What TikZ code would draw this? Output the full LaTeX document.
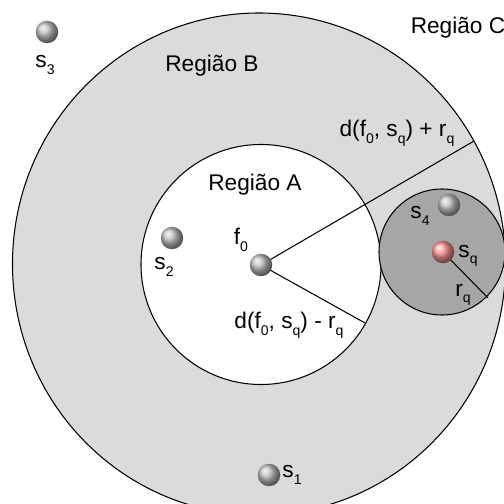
\documentclass[tikz,border=0pt]{standalone}
\usepackage{fontspec}
\setmainfont{Liberation Sans}
\usetikzlibrary{calc}
\newcommand\lowsub[1]{\raisebox{-0.55ex}{\fontsize{8}{8}\selectfont #1}}

\begin{document}
\begin{tikzpicture}[x=0.02cm,y=0.02cm,font=\fontsize{12.9}{14}\selectfont,
    ball/.style={circle,inner sep=0pt,minimum size=0.45cm,shading=ball,ball color=gray!50},
    lbl/.style={inner sep=0pt},
    edge/.style={line width=0.6pt}]
  \useasboundingbox (0,0) rectangle (504,504);
  % ---------------- regions ----------------
  \fill[gray!28] (259,240) ellipse [x radius=246.5,y radius=251];
  \draw[edge] (259,240) ellipse [x radius=246.5,y radius=251];
  \draw[edge,fill=white] (261,239.5) circle [radius=120];
  \draw[edge,fill=gray!70] (442,252) circle [radius=63];
  % ---------------- points ----------------
  \foreach \n/\x/\y in {s1/269/29,s2/172/266,s3/47/472,s4/449/299}{
    \node[ball] (\n) at (\x,\y) {};
  }
  \coordinate (bplus) at (474,363);
  \coordinate (bminus) at (365,181);
  \coordinate (rqend) at (488,206);
  \draw[edge] (261,239) -- (bplus);
  \draw[edge] (261,239) -- (bminus);
  \draw[edge] (443,252) -- (rqend);
  \node[ball] (f0) at (261,239) {};
  \node[ball,ball color=red!42] (sq) at (443,252) {};
  % ---------------- labels ----------------
  \node[lbl] (regA) at (255,319) {Região A};
  \node[lbl] (regB) at (212,438) {Região B};
  \node[lbl] (regC) at (458,476) {Região C};
  \foreach \n/\i/\x/\y in {ls1/1/292/29,ls2/2/164/237,ls3/3/45/439,ls4/4/420/288,lsq/q/468/248}{
    \node[lbl] (\n) at (\x,\y) {s\lowsub{\i}};
  }
  \node[lbl] (lf0) at (241,264) {f\lowsub{0}};
  \node[lbl] (lrq) at (463,209) {r\lowsub{q}};
  \node[lbl] (dplus) at (397,371) {d(f\lowsub{0}, s\lowsub{q}) + r\lowsub{q}};
  \node[lbl] (dminus) at (289,179) {d(f\lowsub{0}, s\lowsub{q}) - r\lowsub{q}};
\end{tikzpicture}
\end{document}
